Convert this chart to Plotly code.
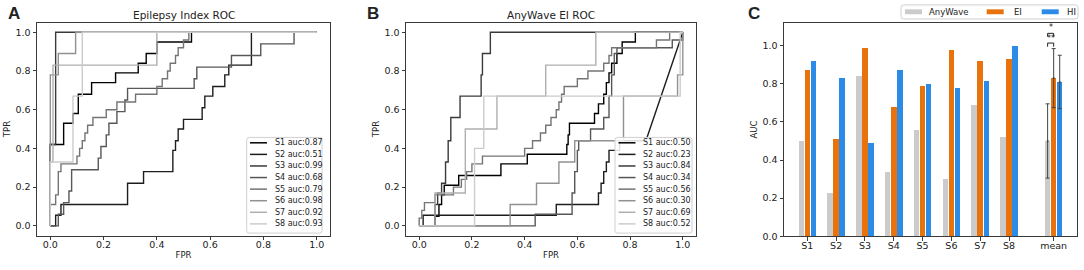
import plotly.graph_objects as go

W, H = 1084, 270

# ---------------- data ----------------
subjects = ["S1", "S2", "S3", "S4", "S5", "S6", "S7", "S8"]
roc_grays = ["#000000", "#1d1d1d", "#3a3a3a", "#575757", "#747474", "#919191", "#afafaf", "#cccccc"]

# Panel A: Epilepsy Index ROC
auc_A = [0.87, 0.51, 0.99, 0.68, 0.79, 0.98, 0.92, 0.93]
A_S1_fpr = [0, 0, 0.05, 0.05, 0.085, 0.085, 0.105, 0.105, 0.155, 0.155, 0.245, 0.245, 0.33, 0.33, 0.36, 0.36, 0.40, 0.40, 0.53, 0.53, 1]
A_S1_tpr = [0, 0.42, 0.42, 0.53, 0.53, 0.58, 0.58, 0.68, 0.68, 0.74, 0.74, 0.79, 0.79, 0.84, 0.84, 0.89, 0.89, 0.95, 0.95, 1, 1]
A_S2_fpr = [0, 0.02, 0.02, 0.04, 0.04, 0.29, 0.29, 0.35, 0.35, 0.46, 0.46, 0.47, 0.47, 0.48, 0.48, 0.5, 0.5, 0.57, 0.57, 0.58, 0.58, 0.61, 0.61, 0.655, 0.655, 0.67, 0.67, 0.755, 0.755, 1]
A_S2_tpr = [0, 0, 0.055, 0.055, 0.11, 0.11, 0.22, 0.22, 0.28, 0.28, 0.39, 0.39, 0.44, 0.44, 0.5, 0.5, 0.55, 0.55, 0.61, 0.61, 0.67, 0.67, 0.72, 0.72, 0.78, 0.78, 0.83, 0.83, 1, 1]
A_S3_fpr = [0, 0, 0.02, 0.02, 1]
A_S3_tpr = [0, 0.42, 0.42, 1, 1]
A_S4_fpr = [0, 0.03, 0.03, 0.05, 0.05, 0.07, 0.07, 0.08, 0.08, 0.18, 0.18, 0.19, 0.19, 0.21, 0.21, 0.22, 0.22, 0.25, 0.25, 0.28, 0.28, 0.29, 0.29, 0.54, 0.54, 0.55, 0.55, 0.68, 0.68, 0.79, 0.79, 0.915, 0.915, 1]
A_S4_tpr = [0, 0, 0.06, 0.06, 0.12, 0.12, 0.18, 0.18, 0.29, 0.29, 0.35, 0.35, 0.41, 0.41, 0.47, 0.47, 0.53, 0.53, 0.59, 0.59, 0.65, 0.65, 0.71, 0.71, 0.76, 0.76, 0.82, 0.82, 0.88, 0.88, 0.94, 0.94, 1, 1]
A_S5_fpr = [0, 0, 0.02, 0.02, 0.03, 0.03, 0.04, 0.04, 0.1, 0.1, 0.11, 0.11, 0.12, 0.12, 0.13, 0.13, 0.14, 0.14, 0.16, 0.16, 0.21, 0.21, 0.25, 0.25, 0.32, 0.32, 0.4, 0.4, 0.42, 0.42, 0.44, 0.44, 0.45, 0.45, 0.47, 0.47, 0.48, 0.48, 0.5, 0.5, 0.52, 0.52, 1]
A_S5_tpr = [0, 0.11, 0.11, 0.16, 0.16, 0.28, 0.28, 0.32, 0.32, 0.36, 0.36, 0.4, 0.4, 0.44, 0.44, 0.48, 0.48, 0.52, 0.52, 0.56, 0.56, 0.6, 0.6, 0.64, 0.64, 0.68, 0.68, 0.72, 0.72, 0.76, 0.76, 0.8, 0.8, 0.84, 0.84, 0.88, 0.88, 0.92, 0.92, 0.96, 0.96, 1, 1]
A_S6_fpr = [0, 0, 0.03, 0.03, 0.095, 0.095, 1]
A_S6_tpr = [0, 0.78, 0.78, 0.89, 0.89, 1, 1]
A_S7_fpr = [0, 0, 0.01, 0.01, 0.40, 0.40, 1]
A_S7_tpr = [0, 0.33, 0.33, 0.83, 0.83, 1, 1]
A_S8_fpr = [0, 0, 0.085, 0.085, 0.12, 0.12, 1]
A_S8_tpr = [0, 0.33, 0.33, 0.67, 0.67, 1, 1]

# Panel B: AnyWave EI ROC
auc_B = [0.50, 0.23, 0.84, 0.34, 0.56, 0.30, 0.69, 0.52]
B_S1_fpr = [0, 0.06, 0.06, 0.075, 0.075, 0.085, 0.085, 0.095, 0.095, 0.15, 0.15, 0.31, 0.31, 0.41, 0.41, 0.56, 0.56, 0.565, 0.565, 0.57, 0.57, 0.665, 0.665, 0.68, 0.68, 0.7, 0.7, 0.71, 0.71, 0.72, 0.72, 0.73, 0.73, 0.75, 0.75, 0.77, 0.77, 0.82, 0.82, 1]
B_S1_tpr = [0, 0, 0.05, 0.05, 0.11, 0.11, 0.16, 0.16, 0.21, 0.21, 0.26, 0.26, 0.32, 0.32, 0.37, 0.37, 0.42, 0.42, 0.47, 0.47, 0.53, 0.53, 0.58, 0.58, 0.63, 0.63, 0.68, 0.68, 0.74, 0.74, 0.79, 0.79, 0.84, 0.84, 0.89, 0.89, 0.95, 0.95, 1, 1]
B_S2_fpr = [0, 0.015, 0.015, 0.52, 0.52, 0.68, 0.68, 0.69, 0.69, 0.7, 0.7, 0.71, 0.71, 0.72, 0.72, 0.76, 0.76, 0.86, 1]
B_S2_tpr = [0, 0, 0.055, 0.055, 0.11, 0.11, 0.17, 0.17, 0.22, 0.22, 0.28, 0.28, 0.33, 0.33, 0.39, 0.39, 0.44, 0.44, 1]
B_S3_fpr = [0, 0.06, 0.06, 0.07, 0.07, 0.085, 0.085, 0.1, 0.1, 0.11, 0.11, 0.12, 0.12, 0.155, 0.155, 0.235, 0.235, 0.24, 0.24, 0.27, 0.27, 1]
B_S3_tpr = [0, 0, 0.11, 0.11, 0.17, 0.17, 0.22, 0.22, 0.33, 0.33, 0.44, 0.44, 0.56, 0.56, 0.67, 0.67, 0.78, 0.78, 0.89, 0.89, 1, 1]
B_S4_fpr = [0, 0.44, 0.44, 0.58, 0.58, 0.59, 0.59, 0.6, 0.6, 0.605, 0.605, 0.65, 0.65, 0.7, 0.7, 0.72, 0.72, 0.73, 0.73, 0.74, 0.74, 0.75, 0.75, 0.96, 0.96, 1, 1]
B_S4_tpr = [0, 0, 0.06, 0.06, 0.17, 0.17, 0.28, 0.28, 0.39, 0.39, 0.44, 0.44, 0.5, 0.5, 0.56, 0.56, 0.67, 0.67, 0.78, 0.78, 0.89, 0.89, 0.92, 0.92, 0.96, 0.96, 1]
B_S5_fpr = [0, 0, 0.01, 0.01, 0.02, 0.02, 0.06, 0.06, 0.13, 0.13, 0.16, 0.16, 0.18, 0.18, 0.2, 0.2, 0.24, 0.24, 0.4, 0.4, 0.43, 0.43, 0.46, 0.46, 0.48, 0.48, 0.5, 0.5, 0.52, 0.52, 0.53, 0.53, 0.54, 0.54, 0.55, 0.55, 0.6, 0.6, 0.64, 0.64, 0.7, 0.7, 0.72, 0.72, 0.73, 0.73, 0.9, 0.9, 0.95, 0.95, 1]
B_S5_tpr = [0, 0.04, 0.04, 0.08, 0.08, 0.12, 0.12, 0.16, 0.16, 0.2, 0.2, 0.24, 0.24, 0.28, 0.28, 0.32, 0.32, 0.36, 0.36, 0.4, 0.4, 0.44, 0.44, 0.48, 0.48, 0.52, 0.52, 0.56, 0.56, 0.6, 0.6, 0.64, 0.64, 0.68, 0.68, 0.72, 0.72, 0.76, 0.76, 0.8, 0.8, 0.84, 0.84, 0.88, 0.88, 0.92, 0.92, 0.96, 0.96, 1, 1]
B_S6_fpr = [0, 0.345, 0.345, 0.445, 0.445, 0.53, 0.53, 0.59, 0.59, 0.775, 0.775, 0.98, 0.98, 1.0, 1.0]
B_S6_tpr = [0, 0, 0.11, 0.11, 0.22, 0.22, 0.33, 0.33, 0.44, 0.44, 0.67, 0.67, 0.78, 0.78, 1]
B_S7_fpr = [0, 0.06, 0.06, 0.175, 0.175, 0.295, 0.295, 0.48, 0.48, 0.67, 0.67, 1]
B_S7_tpr = [0, 0, 0.17, 0.17, 0.5, 0.5, 0.67, 0.67, 0.83, 0.83, 1, 1]
B_S8_fpr = [0, 0.21, 0.21, 0.245, 0.245, 0.99, 0.99, 1]
B_S8_tpr = [0, 0, 0.4, 0.4, 0.67, 0.67, 1, 1]

# Panel C: AUC bars
bar_categories = ["S1", "S2", "S3", "S4", "S5", "S6", "S7", "S8", "mean"]
auc_anywave = [0.50, 0.225, 0.84, 0.335, 0.56, 0.30, 0.69, 0.52, 0.50]
auc_ei = [0.87, 0.51, 0.99, 0.68, 0.79, 0.98, 0.92, 0.93, 0.83]
auc_hi = [0.92, 0.83, 0.49, 0.875, 0.80, 0.78, 0.815, 1.0, 0.81]
std_mean = [0.195, 0.155, 0.14]   # AnyWave, EI, HI
series_names = ["AnyWave", "EI", "HI"]
series_colors = ["#cbcbcb", "#e8720c", "#2b8be6"]
sig_labels = ["**", "*"]

A_fpr = [A_S1_fpr, A_S2_fpr, A_S3_fpr, A_S4_fpr, A_S5_fpr, A_S6_fpr, A_S7_fpr, A_S8_fpr]
A_tpr = [A_S1_tpr, A_S2_tpr, A_S3_tpr, A_S4_tpr, A_S5_tpr, A_S6_tpr, A_S7_tpr, A_S8_tpr]
B_fpr = [B_S1_fpr, B_S2_fpr, B_S3_fpr, B_S4_fpr, B_S5_fpr, B_S6_fpr, B_S7_fpr, B_S8_fpr]
B_tpr = [B_S1_tpr, B_S2_tpr, B_S3_tpr, B_S4_tpr, B_S5_tpr, B_S6_tpr, B_S7_tpr, B_S8_tpr]

# ---------------- layout helpers ----------------
FONT = "DejaVu Sans"
TXT = "#222222"
FRAME = "#3a3a3a"


def px(x):
    return x / W


def py(y):
    return 1 - y / H


fig = go.Figure()

# ROC traces
for i in range(8):
    fig.add_trace(go.Scatter(x=A_fpr[i], y=A_tpr[i], mode="lines", xaxis="x", yaxis="y",
                             line=dict(color=roc_grays[i], width=1.4), showlegend=False, hoverinfo="skip"))
for i in range(8):
    fig.add_trace(go.Scatter(x=B_fpr[i], y=B_tpr[i], mode="lines", xaxis="x2", yaxis="y2",
                             line=dict(color=roc_grays[i], width=1.4), showlegend=False, hoverinfo="skip"))

# Bars
group_pos = [1, 2, 3, 4, 5, 6, 7, 8, 9.55]
offsets = [-0.21, 0.0, 0.21]
series_vals = [auc_anywave, auc_ei, auc_hi]
for s in range(3):
    fig.add_trace(go.Bar(x=[p + offsets[s] for p in group_pos], y=series_vals[s], width=0.19,
                         marker=dict(color=series_colors[s], line=dict(width=0)),
                         xaxis="x3", yaxis="y3", showlegend=False, hoverinfo="skip"))
# error bars on mean
fig.add_trace(go.Scatter(x=[group_pos[-1] + o for o in offsets], y=[v[-1] for v in series_vals],
                         mode="markers", marker=dict(size=2, color="#444"),
                         error_y=dict(type="data", array=std_mean, color="#444", thickness=1, width=2),
                         xaxis="x3", yaxis="y3", showlegend=False, hoverinfo="skip"))

axis_common = dict(showline=True, mirror=True, linecolor=FRAME, linewidth=1, ticks="outside",
                   ticklen=3.5, tickwidth=1, tickcolor=FRAME, showgrid=False, zeroline=False,
                   tickfont=dict(family=FONT, size=9.5, color=TXT), fixedrange=True)
title_font = dict(family=FONT, size=8.5, color=TXT)
unit_ticks = [0, 0.2, 0.4, 0.6, 0.8, 1.0]

ydom = [py(240), py(23)]
fig.update_layout(
    width=W, height=H, autosize=False, margin=dict(l=0, r=0, t=0, b=0),
    paper_bgcolor="white", plot_bgcolor="white", bargap=0, barmode="overlay",
    xaxis=dict(domain=[px(37), px(330)], range=[-0.05, 1.05], tickvals=unit_ticks, tickformat=".1f",
               anchor="y", ticklabelstandoff=-3,
               title=dict(text="FPR", font=title_font, standoff=2), **axis_common),
    yaxis=dict(domain=ydom, range=[-0.05, 1.05], tickvals=unit_ticks, tickformat=".1f", anchor="x",
               title=dict(text="TPR", font=title_font, standoff=3), **axis_common),
    xaxis2=dict(domain=[px(406), px(696)], range=[-0.05, 1.05], tickvals=unit_ticks, tickformat=".1f",
                anchor="y2", ticklabelstandoff=-3,
                title=dict(text="FPR", font=title_font, standoff=2), **axis_common),
    yaxis2=dict(domain=ydom, range=[-0.05, 1.05], tickvals=unit_ticks, tickformat=".1f", anchor="x2",
                title=dict(text="TPR", font=title_font, standoff=3), **axis_common),
    xaxis3=dict(domain=[px(784), px(1077)], range=[0.19, 10.36], tickvals=group_pos,
                ticktext=bar_categories, anchor="y3", ticklabelstandoff=-3, **axis_common),
    yaxis3=dict(domain=[py(240.7), py(23.3)], range=[0, 1.12], tickvals=unit_ticks, tickformat=".1f",
                anchor="x3", title=dict(text="AUC", font=title_font, standoff=3), **axis_common),
)

annotations = []
shapes = []


def text(x, y, s, size, bold=False, family=FONT, xanchor="center", yanchor="middle", color=TXT):
    annotations.append(dict(x=px(x), y=py(y), xref="paper", yref="paper", text=f"<b>{s}</b>" if bold else s,
                            showarrow=False, xanchor=xanchor, yanchor=yanchor,
                            font=dict(family=family, size=size, color=color)))


# panel letters
text(6, 14, "A", 17, bold=True, family="Liberation Sans", xanchor="left")
text(365, 14, "B", 17, bold=True, family="Liberation Sans", xanchor="left")
text(746, 14, "C", 17, bold=True, family="Liberation Sans", xanchor="left")
# titles
text(183.5, 15.5, "Epilepsy Index ROC", 10.5)
text(551, 15.5, "AnyWave EI ROC", 10.5)


def rounded_box(x0, y0, x1, y1, r=2.5):
    X0, X1 = px(x0), px(x1)
    Y0, Y1 = py(y0), py(y1)
    rx, ry = r / W, r / H
    path = (f"M{X0+rx},{Y0} L{X1-rx},{Y0} Q{X1},{Y0} {X1},{Y0-ry} L{X1},{Y1+ry} Q{X1},{Y1} {X1-rx},{Y1} "
            f"L{X0+rx},{Y1} Q{X0},{Y1} {X0},{Y1+ry} L{X0},{Y0-ry} Q{X0},{Y0} {X0+rx},{Y0} Z")
    shapes.append(dict(type="path", path=path, xref="paper", yref="paper", layer="above",
                       line=dict(color="#d0d0d0", width=1), fillcolor="rgba(255,255,255,0.85)"))


def roc_legend(bx0, bx1, line_x0, line_x1, text_x, aucs):
    rounded_box(bx0, 140, bx1, 237.5)
    for i in range(8):
        yy = 145.5 + i * 11.8
        shapes.append(dict(type="line", xref="paper", yref="paper", x0=px(line_x0), x1=px(line_x1),
                           y0=py(yy), y1=py(yy), layer="above", line=dict(color=roc_grays[i], width=1.5)))
        text(text_x, yy, f"{subjects[i]} auc:{aucs[i]:.2f}", 8, xanchor="left")


roc_legend(246.7, 322, 250, 267, 272.5, auc_A)
roc_legend(615, 692, 618.5, 635.5, 641, auc_B)

# bar legend
rounded_box(901, 5, 1078, 19.3)
leg_patch_x = [905, 986.7, 1041.7]
leg_text_x = [927, 1011.5, 1065]
for s in range(3):
    shapes.append(dict(type="rect", xref="paper", yref="paper", x0=px(leg_patch_x[s]), x1=px(leg_patch_x[s] + 17),
                       y0=py(14.5), y1=py(9.5), layer="above", line=dict(width=0), fillcolor=series_colors[s]))
    text(leg_text_x[s], 12.2, series_names[s], 8.5, xanchor="left")

# significance brackets (data coords on x3/y3)
xa = group_pos[-1] + offsets[0]
xe = group_pos[-1] + offsets[1]
for (ytop, yleg, lab, ylab) in [(1.014, 0.995, sig_labels[0], 1.04), (1.065, 1.048, sig_labels[1], 1.095)]:
    shapes.append(dict(type="path", xref="x3", yref="y3", layer="above",
                       path=f"M{xa},{yleg} L{xa},{ytop} L{xe},{ytop} L{xe},{yleg}",
                       line=dict(color="#222", width=1)))
    annotations.append(dict(x=(xa + xe) / 2, y=ylab, xref="x3", yref="y3", text=lab, showarrow=False,
                            font=dict(family=FONT, size=8, color=TXT), xanchor="center", yanchor="middle"))

fig.update_layout(annotations=annotations, shapes=shapes)
fig.write_html(
    "out.html",
    config={"displayModeBar": False, "staticPlot": True},
    post_script=("document.documentElement.style.margin='0';document.documentElement.style.overflow='hidden';"
                 "document.body.style.margin='0';document.body.style.padding='0';"
                 "document.body.style.overflow='hidden';"),
)
